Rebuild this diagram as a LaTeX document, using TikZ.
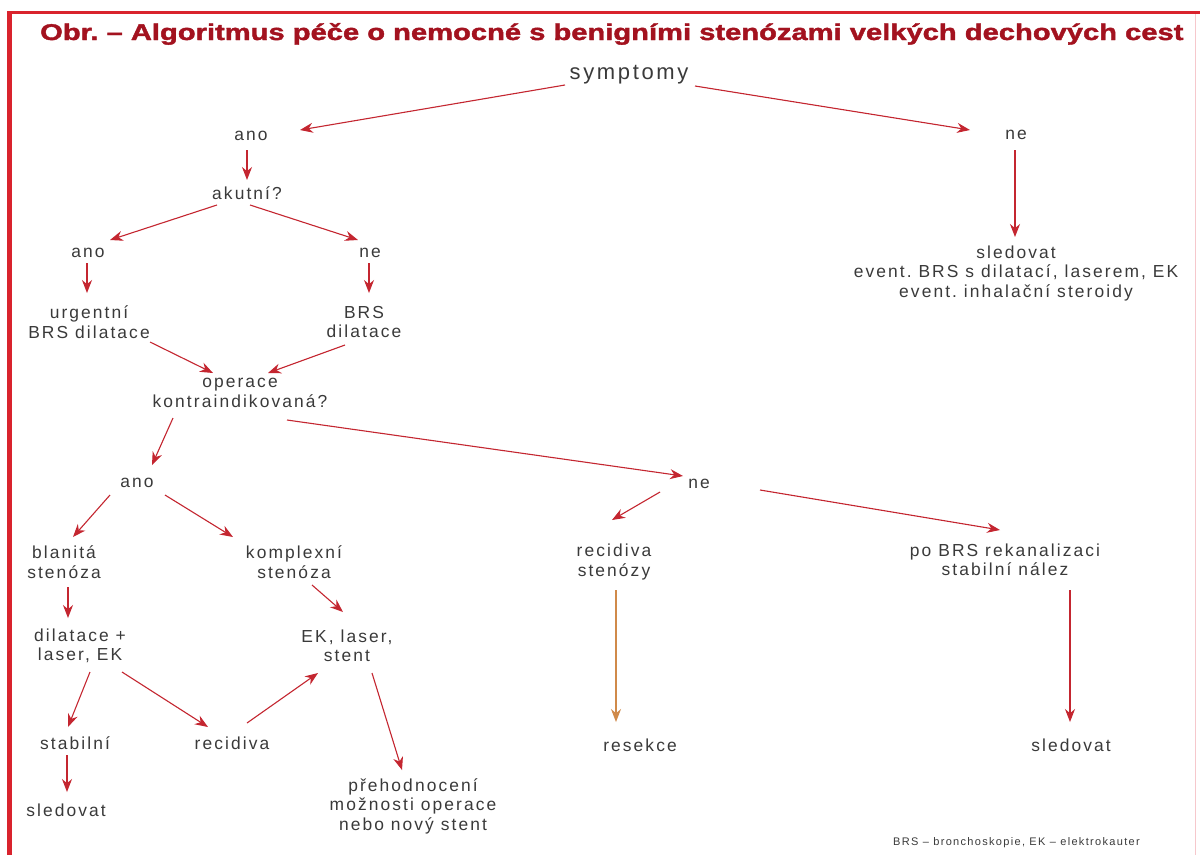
\documentclass[tikz,border=0pt]{standalone}
\usepackage{fontspec}
\setmainfont{Liberation Sans}[LetterSpace=12]
\newfontfamily\titlefont{Liberation Sans Bold}[FakeBold=1.5]
\usetikzlibrary{arrows.meta,calc}
\definecolor{framered}{HTML}{D9232D}
\definecolor{titlered}{HTML}{A3121F}
\definecolor{arrred}{HTML}{C42630}
\definecolor{txtgray}{HTML}{3A3A3A}
\definecolor{orng}{HTML}{D08A4A}
\definecolor{lpink}{HTML}{F6C8CC}
\tikzset{
  lbl/.style={text=txtgray, align=center, inner sep=0pt, font=\fontsize{17.4}{19.5}\selectfont},
  big/.style={text=txtgray, inner sep=0pt, font=\fontsize{22}{24}\selectfont},
  arr/.style={draw=arrred, line width=1.1pt, -{Stealth[length=13pt,width=10pt]}},
  arro/.style={draw=orng, line width=1.1pt, -{Stealth[length=13pt,width=10pt]}},
}
\frenchspacing
\begin{document}
\begin{tikzpicture}[x=1pt,y=-1pt]
\useasboundingbox (0,0) rectangle (1200,855);
\fill[white] (0,0) rectangle (1200,855);
\fill[framered] (7,10.5) rectangle (1200,14);
\fill[framered] (7,10.5) rectangle (12,855);
\draw[lpink, line width=1pt] (1195,14) -- (1195,855);

\node[anchor=base west, inner sep=0pt, text=titlered] (title) at (40,40)
  {\resizebox{1143pt}{17pt}{\titlefont Obr. – Algoritmus péče o nemocné s benigními stenózami velkých dechových cest}};

\node[big] (symptomy) at (629,75) {symptomy};
\node[lbl] (ano1) at (251,136) {ano};
\node[lbl] (ne1) at (1016,135) {ne};
\node[lbl] (akutni) at (247,193) {akutní?};
\node[lbl] (ano2) at (88,253) {ano};
\node[lbl] (ne2) at (370,253) {ne};
\node[lbl] (sled1) at (1016,273) {sledovat\\event. BRS s dilatací, laserem, EK\\event. inhalační steroidy};
\node[lbl] (urg) at (89,322) {urgentní\\BRS dilatace};
\node[lbl] (brsdil) at (364,322) {BRS\\dilatace};
\node[lbl] (operace) at (240,393) {operace\\kontraindikovaná?};
\node[lbl] (ano3) at (137,483) {ano};
\node[lbl] (ne3) at (699,484) {ne};
\node[lbl] (blanita) at (64,562) {blanitá\\stenóza};
\node[lbl] (komplex) at (294,562) {komplexní\\stenóza};
\node[lbl] (recst) at (614,562) {recidiva\\stenózy};
\node[lbl] (pobrs) at (1005,560) {po BRS rekanalizaci\\stabilní nález};
\node[lbl] (dilat) at (80,646) {dilatace +\\laser, EK};
\node[lbl] (eklaser) at (347,646) {EK, laser,\\stent};
\node[lbl] (stabilni) at (75,743) {stabilní};
\node[lbl] (recidiva) at (232,743) {recidiva};
\node[lbl] (resekce) at (640,745) {resekce};
\node[lbl] (sled3) at (1071,745) {sledovat};
\node[lbl] (sled2) at (66,810) {sledovat};
\node[lbl] (preh) at (413,806) {přehodnocení\\možnosti operace\\nebo nový stent};
\node[text=txtgray, inner sep=0pt, anchor=east, font=\fontsize{11}{12}\selectfont] (foot) at (1140,843) {BRS – bronchoskopie, EK – elektrokauter};

\draw[arr] ($(symptomy)+(-64,10)$) -- ($(ano1)+(49,-6)$);
\draw[arr] ($(symptomy)+(66,11)$) -- ($(ne1)+(-46,-5)$);
\draw[arr] ($(ano1)+(-4,14)$) -- ($(akutni)+(0,-13)$);
\draw[arr] ($(akutni)+(-30,12)$) -- ($(ano2)+(22,-13)$);
\draw[arr] ($(akutni)+(3,12)$) -- ($(ne2)+(-12,-13)$);
\draw[arr] ($(ne1)+(-1,15)$) -- ($(sled1)+(-1,-36)$);
\draw[arr] ($(ano2)+(-1,10)$) -- ($(urg)+(-2,-29)$);
\draw[arr] ($(ne2)+(-1,10)$) -- ($(brsdil)+(5,-29)$);
\draw[arr] ($(urg)+(61,20)$) -- ($(operace)+(-27,-20)$);
\draw[arr] ($(brsdil)+(-19,23)$) -- ($(operace)+(28,-20)$);
\draw[arr] ($(operace)+(-67,25)$) -- ($(ano3)+(15,-18)$);
\draw[arr] ($(operace)+(47,27)$) -- ($(ne3)+(-16,-8)$);
\draw[arr] ($(ano3)+(-27,12)$) -- ($(blanita)+(9,-25)$);
\draw[arr] ($(ano3)+(28,12)$) -- ($(komplex)+(-61,-25)$);
\draw[arr] ($(ne3)+(-39,8)$) -- ($(recst)+(-2,-42)$);
\draw[arr] ($(ne3)+(61,6)$) -- ($(pobrs)+(-5,-30)$);
\draw[arr] ($(blanita)+(4,25)$) -- ($(dilat)+(-12,-28)$);
\draw[arr] ($(komplex)+(18,23)$) -- ($(eklaser)+(-4,-34)$);
\draw[arro] ($(recst)+(2,28)$) -- ($(resekce)+(-24,-23)$);
\draw[arr] ($(pobrs)+(65,30)$) -- ($(sled3)+(-1,-23)$);
\draw[arr] ($(dilat)+(10,26)$) -- ($(stabilni)+(-7,-16)$);
\draw[arr] ($(dilat)+(42,26)$) -- ($(recidiva)+(-24,-16)$);
\draw[arr] ($(recidiva)+(15,-20)$) -- ($(eklaser)+(-29,27)$);
\draw[arr] ($(eklaser)+(25,27)$) -- ($(preh)+(-11,-36)$);
\draw[arr] ($(stabilni)+(-8,12)$) -- ($(sled2)+(1,-18)$);
\end{tikzpicture}
\end{document}
